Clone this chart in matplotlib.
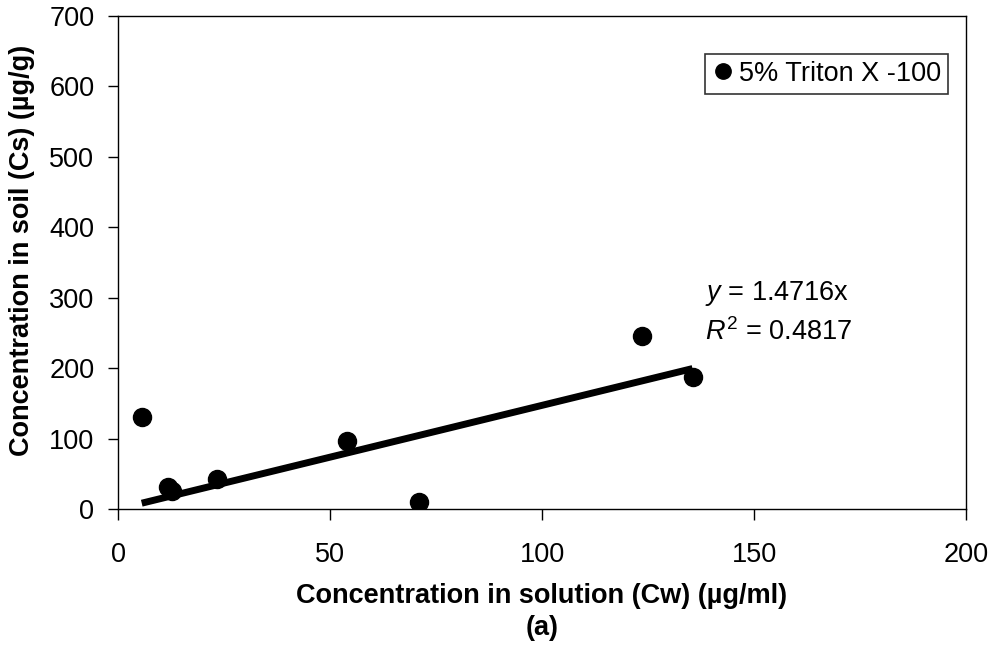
import matplotlib
matplotlib.use("Agg")
import matplotlib.pyplot as plt
import numpy as np

# data
cw = [5.6, 11.9, 12.7, 23.3, 54.1, 71.1, 123.7, 135.5]
cs = [130, 31, 25, 43, 97, 10, 246, 187]
slope = 1.4716
r2 = 0.4817
fit_x = [min(cw), max(cw)]

plt.rcParams['font.family'] = ['Liberation Sans', 'DejaVu Sans']
plt.rcParams['mathtext.fontset'] = 'custom'
plt.rcParams['mathtext.rm'] = 'Liberation Sans'
plt.rcParams['mathtext.it'] = 'Liberation Sans:italic'

fs = 19.5

fig = plt.figure(figsize=(9.97, 6.5), dpi=100)
ax = fig.add_axes([118 / 997, 1 - 509 / 650, (966 - 118) / 997, (509 - 16) / 650])

ax.plot(cw, cs, 'o', color='black', markersize=13, label='5% Triton X -100', zorder=3)
ax.plot(fit_x, [slope * v for v in fit_x], color='black', linewidth=5, solid_capstyle='butt')

ax.text(138.4, 297, '$y$ = %.4fx' % slope, fontsize=fs, va='baseline', ha='left')
ax.text(138.4, 240, '$R^2$ = %.4f' % r2, fontsize=fs, va='baseline', ha='left')

ax.set_xlim(0, 200)
ax.set_ylim(0, 700)
ax.set_xticks(np.arange(0, 201, 50))
ax.set_yticks(np.arange(0, 701, 100))
ax.tick_params(direction='out', width=1, labelsize=fs)
ax.tick_params(axis='x', length=8, pad=16)
ax.tick_params(axis='y', length=7, pad=10)
for s in ax.spines.values():
    s.set_linewidth(1)

fig.text(542 / 997, 1 - 596 / 650, 'Concentration in solution (Cw) (\u00b5g/ml)',
         fontsize=fs, fontweight='bold', ha='center', va='center')
fig.text(542 / 997, 1 - 628 / 650, '(a)', fontsize=fs, fontweight='bold',
         ha='center', va='center')
fig.text(22 / 997, 1 - 250 / 650, 'Concentration in soil (Cs) (\u00b5g/g)', fontsize=fs,
         fontweight='bold', ha='center', va='center', rotation=90)

leg = ax.legend(loc='upper right', bbox_to_anchor=(948 / 997, 1 - 54 / 650),
                bbox_transform=fig.transFigure, fontsize=fs, frameon=True,
                fancybox=False, edgecolor='black', handletextpad=0.2,
                borderpad=0.25, handlelength=0.8, borderaxespad=0, markerscale=0.85)
leg.get_frame().set_linewidth(1.2)

fig.savefig('out.png', dpi=100)
